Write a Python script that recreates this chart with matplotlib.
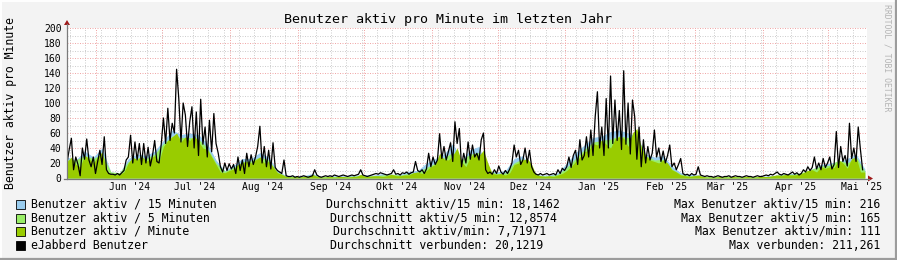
import numpy as np
import matplotlib
matplotlib.use("Agg")
import matplotlib.pyplot as plt
import matplotlib.dates as mdates
from matplotlib.lines import Line2D
from matplotlib.patches import Polygon, Rectangle
from datetime import datetime, timedelta

plt.rcParams['font.family'] = ['DejaVu Sans Mono', 'DejaVu Sans']

# ---------------- data ----------------
title = "Benutzer aktiv pro Minute im letzten Jahr"
ylabel = "Benutzer aktiv pro Minute"
watermark = "RRDTOOL / TOBI OETIKER"

start = datetime(2024, 5, 18, 14)
end = start + timedelta(days=365)

# eJabberd Benutzer (connected), one value per day from start
connected = [
    20, 38, 53, 11, 28, 18, 3,
    40, 25, 52, 24, 15, 28, 6,
    22, 37, 18, 55, 11, 6, 5,
    5, 4, 6, 4, 7, 10, 24,
    28, 57, 20, 48, 24, 46, 18,
    46, 20, 41, 16, 30, 50, 22,
    20, 45, 80, 46, 93, 50, 73,
    60, 145, 106, 48, 100, 84, 42,
    75, 95, 40, 88, 30, 105, 45,
    68, 28, 77, 35, 86, 46, 33,
    15, 8, 20, 10, 19, 12, 18,
    6, 28, 10, 24, 6, 33, 15,
    31, 18, 28, 42, 69, 20, 42,
    15, 37, 12, 47, 14, 10, 8,
    6, 24, 3, 2, 2, 3, 1,
    2, 1, 2, 3, 2, 1, 2,
    3, 11, 4, 2, 1, 2, 3,
    2, 3, 2, 4, 3, 2, 3,
    4, 3, 2, 3, 4, 3, 4,
    5, 11, 4, 3, 2, 3, 4,
    5, 6, 5, 7, 6, 5, 4,
    5, 6, 11, 5, 6, 4, 7,
    6, 8, 5, 7, 8, 22, 10,
    8, 11, 6, 12, 33, 15, 28,
    18, 24, 59, 26, 42, 24, 35,
    47, 22, 75, 46, 66, 15, 33,
    20, 48, 25, 44, 28, 33, 24,
    51, 60, 11, 6, 8, 5, 11,
    6, 16, 8, 5, 10, 6, 12,
    20, 44, 28, 37, 18, 24, 40,
    20, 37, 15, 8, 5, 4, 6,
    4, 5, 6, 4, 5, 6, 4,
    11, 6, 13, 10, 15, 28, 14,
    30, 37, 18, 51, 24, 30, 55,
    28, 64, 30, 82, 115, 40, 68,
    30, 106, 40, 136, 46, 104, 50,
    90, 38, 143, 45, 100, 32, 104,
    82, 25, 68, 15, 51, 20, 42,
    24, 33, 64, 28, 40, 22, 36,
    20, 30, 44, 15, 20, 11, 18,
    26, 6, 4, 5, 3, 6, 4,
    5, 15, 4, 3, 2, 3, 2,
    2, 1, 2, 3, 2, 1, 2,
    2, 3, 1, 2, 3, 2, 2,
    1, 2, 3, 2, 2, 1, 2,
    3, 2, 2, 3, 4, 3, 5,
    4, 6, 8, 5, 4, 6, 5,
    4, 6, 8, 5, 7, 4, 6,
    11, 8, 15, 10, 14, 28, 12,
    20, 11, 26, 14, 20, 28, 12,
    18, 62, 14, 42, 22, 30, 16,
    73, 26, 40, 22, 68, 38, 11,
]

# Benutzer aktiv / Minute, one value every 2 days
active_1min = [
    22, 28, 18, 15, 30, 26, 20,
    28, 35, 10, 5, 4, 5, 8,
    20, 28, 24, 30, 22, 26, 30,
    22, 42, 50, 55, 60, 48, 55,
    50, 57, 48, 40, 38, 28, 18,
    8, 7, 10, 12, 18, 20, 22,
    20, 24, 28, 20, 22, 15, 7,
    5, 2, 1, 2, 1, 2, 1,
    5, 2, 1, 1, 2, 1, 2,
    2, 1, 2, 2, 5, 2, 2,
    3, 3, 2, 3, 5, 3, 3,
    4, 4, 7, 8, 6, 10, 15,
    18, 33, 25, 24, 30, 40, 22,
    15, 28, 33, 30, 37, 20, 6,
    5, 6, 4, 7, 18, 20, 24,
    26, 18, 4, 3, 2, 3, 2,
    4, 6, 10, 15, 22, 28, 35,
    37, 46, 44, 51, 45, 40, 52,
    55, 53, 42, 60, 66, 40, 30,
    24, 22, 20, 24, 20, 11, 8,
    4, 3, 2, 3, 4, 2, 1,
    1, 1, 2, 1, 1, 2, 1,
    1, 2, 1, 1, 2, 2, 2,
    3, 4, 3, 5, 4, 4, 5,
    7, 10, 11, 8, 15, 13, 15,
    14, 24, 20, 13, 26, 28, 8,
    8,
]

# Benutzer aktiv / 5 Minuten, one value every 4 days
active_5min = [
    24, 24, 30, 26, 32, 8, 7, 22,
    27, 26, 32, 46, 56, 54, 54, 52,
    40, 20, 9, 14, 22, 23, 28, 24,
    8, 2, 2, 2, 4, 2, 2, 2,
    2, 3, 3, 3, 4, 5, 4, 6,
    8, 14, 20, 27, 34, 24, 32, 34,
    9, 6, 7, 20, 26, 10, 3, 3,
    5, 14, 26, 38, 48, 50, 52, 56,
    54, 56, 30, 24, 25, 12, 5, 3,
    3, 2, 2, 2, 2, 2, 2, 2,
    2, 4, 5, 5, 8, 12, 16, 17,
    24, 20, 28, 9,
]

# Benutzer aktiv / 15 Minuten, one value every 4 days
active_15min = [
    28, 24, 36, 28, 40, 8, 7, 26,
    32, 30, 36, 50, 64, 58, 60, 58,
    46, 24, 10, 17, 26, 26, 34, 28,
    10, 3, 3, 3, 6, 2, 3, 3,
    3, 4, 4, 4, 6, 5, 5, 9,
    10, 20, 26, 32, 46, 24, 38, 42,
    10, 8, 10, 26, 30, 8, 4, 4,
    7, 20, 34, 44, 54, 56, 62, 64,
    60, 56, 32, 28, 30, 16, 7, 5,
    4, 2, 2, 2, 2, 2, 2, 2,
    3, 4, 6, 6, 7, 12, 18, 20,
    22, 26, 32, 12,
]

month_labels = ["Jun '24", "Jul '24", "Aug '24", "Sep '24", "Okt '24", "Nov '24",
                "Dez '24", "Jan '25", "Feb '25", "Mär '25", "Apr '25", "Mai '25"]
yticks = list(range(0, 201, 20))

legend_labels = ["Benutzer aktiv / 15 Minuten", "Benutzer aktiv / 5 Minuten",
                 "Benutzer aktiv / Minute", "eJabberd Benutzer"]
legend_colors = ["#99CCEE", "#99EE66", "#99CC00", "#000000"]
avg_texts = ["Durchschnitt aktiv/15 min: 18,1462", "Durchschnitt aktiv/5 min: 12,8574",
             "Durchschnitt aktiv/min: 7,71971", "Durchschnitt verbunden: 20,1219"]
max_texts = ["Max Benutzer aktiv/15 min: 216", "Max Benutzer aktiv/5 min: 165",
             "Max Benutzer aktiv/min: 111", "Max verbunden: 211,261"]

# ---------------- layout helpers ----------------
W, H = 897, 260
def fx(x):
    return x / W
def fy(y):
    return 1 - y / H

fig = plt.figure(figsize=(W / 100, H / 100), dpi=100)
fig.patch.set_facecolor("#F3F3F3")

ax = fig.add_axes([fx(67), fy(178), 800 / W, 150 / H])
ax.set_facecolor("white")
for s in ax.spines.values():
    s.set_visible(False)

x0 = mdates.date2num(start)
ax.set_xlim(x0, mdates.date2num(end))
ax.set_ylim(0, 200)

# grid
minor_c = "#CFCFCF"
major_c = "#F0A8A8"
px = 0.72
for v in range(10, 200, 20):
    ax.axhline(v, color=minor_c, lw=px, dashes=(1, 1.5), zorder=0)
for v in range(20, 201, 20):
    ax.axhline(v, color=major_c, lw=px, dashes=(1, 1.5), zorder=0.5)

d = start.date()
mondays = []
cur = datetime(d.year, d.month, d.day)
while cur < end:
    if cur.weekday() == 0 and cur > start:
        mondays.append(cur)
    cur += timedelta(days=1)
for m in mondays:
    ax.axvline(mdates.date2num(m), color=minor_c, lw=px, dashes=(1, 1.5), zorder=0)

month_starts = []
label_pos = []
for k in range(12):
    mo = 6 + k
    yr = 2024 + (mo - 1) // 12
    mo = (mo - 1) % 12 + 1
    ms = datetime(yr, mo, 1)
    month_starts.append(ms)
    label_pos.append(ms + timedelta(days=15))
for ms in month_starts:
    ax.axvline(mdates.date2num(ms), color=major_c, lw=px, dashes=(1, 1.5), zorder=0.5)

# data
xc = x0 + np.arange(len(connected))
x1 = x0 + 2 * np.arange(len(active_1min))
x5 = x0 + 4 * np.arange(len(active_5min))
x15 = x0 + 4 * np.arange(len(active_15min))

ax.fill_between(x15, active_15min, 0, color=legend_colors[0], lw=0, zorder=1)
ax.fill_between(x5, active_5min, 0, color=legend_colors[1], lw=0, zorder=1.1)
ax.fill_between(x1, active_1min, 0, color=legend_colors[2], lw=0, zorder=1.2)
ax.plot(xc, connected, color="black", lw=0.9, zorder=2)

# ticks
ax.set_yticks(yticks)
ax.set_yticklabels([str(v) for v in yticks], fontsize=7)
ax.set_xticks([mdates.date2num(p) for p in label_pos])
ax.set_xticklabels(month_labels, fontsize=7)
ax.tick_params(axis="both", length=0, colors="#000000")
ax.tick_params(axis="y", pad=4)
ax.tick_params(axis="x", pad=3)

# axes lines and arrows
axis_c = "#7A7A7A"
arrow_c = "#A01818"
fig.add_artist(Line2D([fx(67), fx(67)], [fy(178.5), fy(24)], color=axis_c, lw=0.9))
fig.add_artist(Line2D([fx(64), fx(869)], [fy(178.5), fy(178.5)], color=axis_c, lw=0.9))
fig.add_artist(Polygon([[fx(64), fy(25)], [fx(70), fy(25)], [fx(67), fy(20)]],
                       closed=True, color=arrow_c, lw=0))
fig.add_artist(Polygon([[fx(868), fy(175.5)], [fx(868), fy(181.5)], [fx(873), fy(178.5)]],
                       closed=True, color=arrow_c, lw=0))

# texts
fig.text(fx(448), fy(19.5), title, ha="center", va="center", fontsize=9.6)
fig.text(fx(10.5), fy(103), ylabel, ha="center", va="center", rotation=90, fontsize=8.3)
fig.text(fx(887), fy(4), watermark, ha="center", va="top", rotation=270,
         fontsize=5.9, color="#B4B4B4")

row_y = [204, 218, 231.5, 245.5]
mid_x = [326, 330, 333.3, 330]
for i in range(4):
    fig.add_artist(Rectangle((fx(15.5), fy(row_y[i] + 4.5)), 9 / W, 9 / H,
                             facecolor=legend_colors[i], edgecolor="#000000", lw=0.6))
    fig.text(fx(30.5), fy(row_y[i]), legend_labels[i], ha="left", va="center", fontsize=8.3)
    fig.text(fx(mid_x[i]), fy(row_y[i]), avg_texts[i], ha="left", va="center", fontsize=8.3)
    fig.text(fx(880.5), fy(row_y[i]), max_texts[i], ha="right", va="center", fontsize=8.3)

# frame shading
fig.add_artist(Line2D([0, 1], [fy(0.5), fy(0.5)], color="#FFFFFF", lw=1.4))
fig.add_artist(Line2D([fx(0.5), fx(0.5)], [0, 1], color="#FFFFFF", lw=1.4))
fig.add_artist(Line2D([0, 1], [fy(258.8), fy(258.8)], color="#9C9C9C", lw=1.6))
fig.add_artist(Line2D([fx(895.8), fx(895.8)], [0, 1], color="#9C9C9C", lw=1.6))

fig.savefig("out.png", dpi=100, facecolor=fig.get_facecolor())
